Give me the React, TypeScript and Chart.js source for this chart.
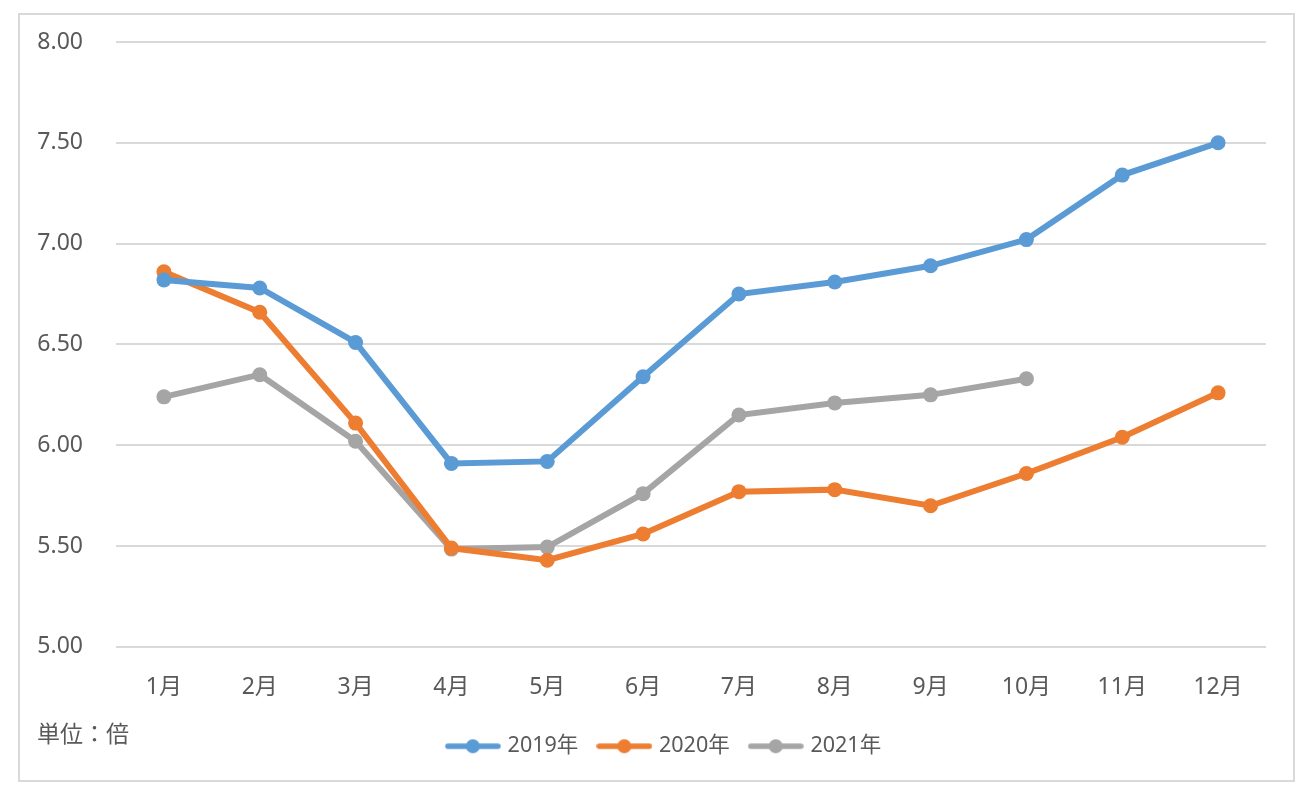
import React, { useEffect, useRef } from "react";
import { Chart, registerables } from "chart.js";

Chart.register(...registerables);

const categories = ["1月", "2月", "3月", "4月", "5月", "6月", "7月", "8月", "9月", "10月", "11月", "12月"];
const series2019 = [6.82, 6.78, 6.51, 5.91, 5.92, 6.34, 6.75, 6.81, 6.89, 7.02, 7.34, 7.5];
const series2020 = [6.86, 6.66, 6.11, 5.49, 5.43, 5.56, 5.77, 5.78, 5.7, 5.86, 6.04, 6.26];
const series2021 = [6.24, 6.35, 6.02, 5.485, 5.495, 5.76, 6.15, 6.21, 6.25, 6.33, null, null];
const seriesNames = ["2019年", "2020年", "2021年"];
const colors = ["#5B9BD5", "#ED7D31", "#A5A5A5"];
const unitLabel = "単位：倍";

const FONT = '"Noto Sans", "Noto Sans CJK JP", sans-serif';
const TEXT = "#595959";

function legendImage(color: string): HTMLCanvasElement {
  const c = document.createElement("canvas");
  c.width = 56;
  c.height = 16;
  const ctx = c.getContext("2d")!;
  ctx.strokeStyle = color;
  ctx.lineWidth = 5.5;
  ctx.lineCap = "round";
  ctx.beginPath();
  ctx.moveTo(3, 8);
  ctx.lineTo(53, 8);
  ctx.stroke();
  ctx.fillStyle = color;
  ctx.beginPath();
  ctx.arc(28, 8, 7, 0, Math.PI * 2);
  ctx.fill();
  return c;
}

export default function App() {
  const ref = useRef<HTMLCanvasElement | null>(null);
  useEffect(() => {
    if (!ref.current) return;
    const images = colors.map(legendImage);
    const unitPlugin = {
      id: "unitText",
      afterLayout(chart: any) {
        if (chart.legend) {
          chart.legend.left += 22;
          chart.legend.right += 22;
        }
      },
      afterDraw(chart: any) {
        const ctx = chart.ctx;
        ctx.save();
        ctx.font = `23px ${FONT}`;
        ctx.fillStyle = TEXT;
        ctx.textBaseline = "middle";
        ctx.textAlign = "left";
        ctx.fillText(unitLabel, 17, 720);
        ctx.restore();
      },
    };
    const mk = (i: number, data: (number | null)[]) => ({
      label: seriesNames[i],
      data,
      borderColor: colors[i],
      backgroundColor: colors[i],
      borderWidth: 6,
      pointRadius: 7.5,
      pointHoverRadius: 7.5,
      pointBackgroundColor: colors[i],
      pointBorderWidth: 0,
      tension: 0,
      spanGaps: false,
    });
    const chart = new Chart(ref.current, {
      type: "line",
      data: {
        labels: categories,
        datasets: [mk(0, series2019), mk(1, series2020), mk(2, series2021)],
      },
      options: {
        animation: false,
        responsive: false,
        maintainAspectRatio: false,
        layout: { padding: { left: 0, right: 27, top: 27, bottom: 13 } },
        scales: {
          x: {
            offset: true,
            afterFit: (s: any) => {
              s.height = s.height - 15;
            },
            grid: { display: false, drawTicks: false },
            border: { display: false },
            ticks: { color: TEXT, font: { size: 23, family: FONT }, padding: 27, maxRotation: 0 },
          },
          y: {
            min: 5,
            max: 8,
            afterFit: (s: any) => {
              s.width = 96;
            },
            grid: { color: "#d9d9d9", lineWidth: 2, drawTicks: true, tickLength: 33, tickColor: "rgba(0,0,0,0)" },
            border: { display: false },
            ticks: {
              stepSize: 0.5,
              color: TEXT,
              padding: 0,
              font: { size: 23, family: FONT },
              callback: (v: any) => Number(v).toFixed(2),
            },
          },
        },
        plugins: {
          legend: {
            position: "bottom",
            labels: {
              usePointStyle: true,
              pointStyleWidth: 48,
              color: TEXT,
              padding: 22,
              font: { size: 21.5, family: FONT },
              generateLabels: (c: any) =>
                (Chart.defaults.plugins.legend.labels.generateLabels as any)(c).map((l: any, i: number) => ({
                  ...l,
                  pointStyle: images[i],
                })),
            },
          },
          tooltip: { enabled: false },
        },
      },
      plugins: [unitPlugin],
    } as any);
    return () => chart.destroy();
  }, []);
  return (
    <div
      style={{
        position: "absolute",
        left: 18,
        top: 13,
        width: 1277,
        height: 769,
        border: "2px solid #d9d9d9",
        boxSizing: "border-box",
        background: "#fff",
      }}
    >
      <canvas ref={ref} width={1273} height={765} style={{ display: "block" }} />
    </div>
  );
}
